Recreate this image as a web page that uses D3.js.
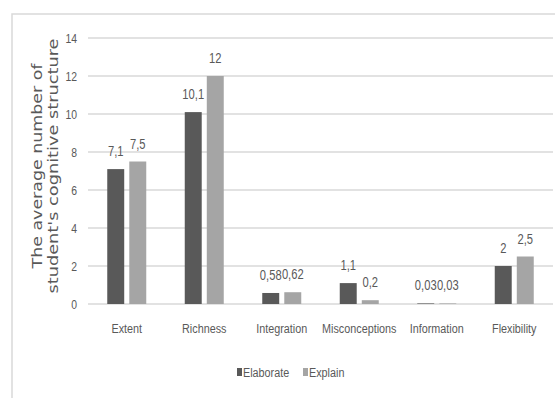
<!DOCTYPE html>
<html>
<head>
<meta charset="utf-8">
<script src="https://cdn.jsdelivr.net/npm/d3@7"></script>
<style>
  body { margin: 0; background: #fff; }
  text { font-family: "Liberation Sans Narrow", "Liberation Sans", sans-serif; fill: #595959; }
</style>
</head>
<body>
<div id="chart"></div>
<script>
// values
const categories = ["Extent", "Richness", "Integration", "Misconceptions", "Information", "Flexibility"];
const series = ["Elaborate", "Explain"];
const elaborate = [7.1, 10.1, 0.58, 1.1, 0.03, 2];
const explain = [7.5, 12, 0.62, 0.2, 0.03, 2.5];
const yTicks = [0, 2, 4, 6, 8, 10, 12, 14];
const colors = { Elaborate: "#595959", Explain: "#a5a5a5" };

const W = 555, H = 398;
const narrow = "scale(0.8,1)"; // reference uses a condensed face
const svg = d3.select("#chart").append("svg").attr("width", W).attr("height", H);

// chart frame
svg.append("path").attr("d", `M12,${H} L12,14 L${W},14`)
    .attr("fill", "none").attr("stroke", "#d9d9d9").attr("stroke-width", 1.5);

const x0 = d3.scaleBand().domain(categories).range([88, 553]);
const y = d3.scaleLinear().domain([0, 14]).range([304, 38]);

// gridlines
svg.append("g").selectAll("line").data(yTicks).join("line")
    .attr("x1", 88).attr("x2", 553)
    .attr("y1", d => y(d)).attr("y2", d => y(d))
    .attr("stroke", "#d9d9d9").attr("stroke-width", 1.5);

const yAxis = svg.append("g").attr("transform", "translate(77,0)")
    .call(d3.axisLeft(y).tickValues(yTicks).tickSize(0).tickPadding(0));
yAxis.select(".domain").remove();
yAxis.selectAll("text").attr("font-size", 13).attr("fill", "#595959").attr("transform", narrow)
    .style("font-family", "'Liberation Sans Narrow', 'Liberation Sans', sans-serif");

const xAxis = svg.append("g").attr("transform", "translate(0,323)")
    .call(d3.axisBottom(x0).tickSize(0).tickPadding(0));
xAxis.select(".domain").remove();
xAxis.selectAll("text").attr("font-size", 13.5).attr("fill", "#595959").attr("dy", "0.71em")
    .attr("transform", narrow)
    .style("font-family", "'Liberation Sans Narrow', 'Liberation Sans', sans-serif");

const x1 = d3.scaleBand().domain(series).range([-19.5, 19.5]).paddingInner(0.23);

const rows = categories.map((c, i) => ({ cat: c, vals: [
  { s: "Elaborate", v: elaborate[i] },
  { s: "Explain", v: explain[i] }
]}));

const groups = svg.append("g").selectAll("g").data(rows).join("g")
    .attr("transform", d => `translate(${x0(d.cat) + x0.bandwidth() / 2},0)`);

groups.selectAll("rect").data(d => d.vals).join("rect")
    .attr("x", d => x1(d.s)).attr("width", x1.bandwidth())
    .attr("y", d => y(d.v)).attr("height", d => y(0) - y(d.v))
    .attr("fill", d => colors[d.s]);

groups.selectAll("text.val").data(d => d.vals).join("text")
    .attr("class", "val")
    .attr("transform", d => `translate(${x1(d.s) + x1.bandwidth() / 2},${y(d.v) - 13}) ${narrow}`)
    .attr("text-anchor", "middle").attr("font-size", 14).attr("fill", "#404040")
    .text(d => String(d.v).replace(".", ","));

// axis title
const title = svg.append("text")
    .attr("transform", "translate(46,166) rotate(-90)")
    .attr("text-anchor", "middle").attr("font-size", 14.5)
    .style("font-family", "'DejaVu Sans', sans-serif");
title.append("tspan").attr("x", 0).attr("dy", "-0.25em")
    .attr("textLength", 205).attr("lengthAdjust", "spacingAndGlyphs").text("The average number of");
title.append("tspan").attr("x", 0).attr("dy", "1.1em")
    .attr("textLength", 255).attr("lengthAdjust", "spacingAndGlyphs").text("student's cognitive structure");

// legend
const legend = svg.append("g").selectAll("g").data(series).join("g")
    .attr("transform", (d, i) => `translate(${i === 0 ? 237 : 303},372)`);
legend.append("rect").attr("x", 0).attr("y", -4).attr("width", 5).attr("height", 8)
    .attr("fill", d => colors[d]);
legend.append("text").attr("x", 0).attr("dy", "0.35em").attr("font-size", 13.5)
    .attr("transform", "translate(6,0) " + narrow).text(d => d);
</script>
</body>
</html>
